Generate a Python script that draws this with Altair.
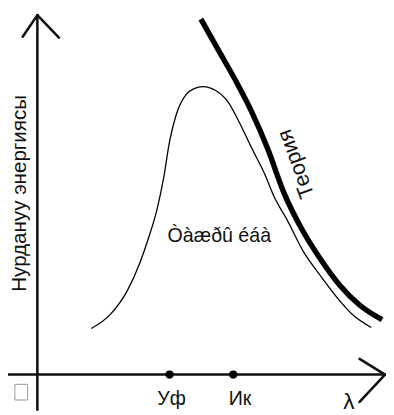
import altair as alt
import pandas as pd

# drawing coordinate system: x to the right, y downward (0..415)
# axes with arrow heads: segments (x, y, x2, y2)
axis_x1 = [38, 5, 23, 60, 367, 367]
axis_y1 = [11, 378, 33, 34, 362, 406]
axis_x2 = [38, 393, 38, 38, 393, 393]
axis_y2 = [414, 378, 11, 11, 378, 378]

# experimental curve (thin)
exp_x = [93, 113, 130, 143, 152, 160, 167, 173, 180, 190, 198, 207, 220, 233, 243, 257, 270, 280, 293, 310, 327, 347, 360, 379]
exp_y = [331, 316, 292, 263, 237, 210, 177, 140, 112, 92, 86, 84, 88, 100, 118, 147, 173, 197, 220, 253, 277, 303, 317, 330]

# theoretical curve (thick)
th_x = [205, 223, 240, 257, 273, 290, 310, 327, 347, 367, 390]
th_y = [15, 47, 77, 110, 147, 193, 233, 260, 287, 307, 322]

# marked points on wavelength axis
pt_x = [173, 238]
pt_y = [378, 378]

# labels
lab_text = ["Нурдануу энергиясы", "Òàæðû éáà", "Теория", "Уф", "Ик", "λ"]
lab_x = [20, 171, 302, 175, 245, 356]
lab_y = [193, 237, 163, 403, 403, 406]
lab_angle = [270, 0, 250, 0, 0, 0]
lab_size = [21, 20, 22, 20, 20, 23]
lab_align = ["center", "left", "center", "center", "center", "center"]

box_x = [15]
box_x2 = [28]
box_y = [388]
box_y2 = [404]

W, H = 386, 407
xs = alt.Scale(domain=[8, 394], nice=False, zero=False)
ys = alt.Scale(domain=[8, 415], nice=False, zero=False, reverse=True)

axes_df = pd.DataFrame({"x": axis_x1, "y": axis_y1, "x2": axis_x2, "y2": axis_y2})
exp_df = pd.DataFrame({"x": exp_x, "y": exp_y})
th_df = pd.DataFrame({"x": th_x, "y": th_y})
pt_df = pd.DataFrame({"x": pt_x, "y": pt_y})
lab_df = pd.DataFrame({"t": lab_text, "x": lab_x, "y": lab_y, "a": lab_angle,
                       "s": lab_size, "al": lab_align})
box_df = pd.DataFrame({"x": box_x, "x2": box_x2, "y": box_y, "y2": box_y2})

axes = alt.Chart(axes_df).mark_rule(color="#111", strokeWidth=2.6, strokeCap="round").encode(
    x=alt.X("x:Q", scale=xs, axis=None), y=alt.Y("y:Q", scale=ys, axis=None),
    x2="x2:Q", y2="y2:Q")

exp = alt.Chart(exp_df).mark_line(color="#000", strokeWidth=1.3, interpolate="monotone").encode(
    x=alt.X("x:Q", scale=xs, axis=None), y=alt.Y("y:Q", scale=ys, axis=None), order="x:Q")

th = alt.Chart(th_df).mark_line(color="#000", strokeWidth=5.5, interpolate="monotone").encode(
    x=alt.X("x:Q", scale=xs, axis=None), y=alt.Y("y:Q", scale=ys, axis=None), order="x:Q")

pts = alt.Chart(pt_df).mark_circle(color="#000", opacity=1, size=70).encode(
    x=alt.X("x:Q", scale=xs, axis=None), y=alt.Y("y:Q", scale=ys, axis=None))

box = alt.Chart(box_df).mark_rect(fill="white", stroke="#999", strokeWidth=1).encode(
    x=alt.X("x:Q", scale=xs, axis=None), y=alt.Y("y:Q", scale=ys, axis=None),
    x2="x2:Q", y2="y2:Q")

def lab_layer(align):
    return alt.Chart(lab_df).transform_filter(alt.datum.al == align).mark_text(
        font="Liberation Sans", color="#111", baseline="middle", align=align).encode(
        x=alt.X("x:Q", scale=xs, axis=None), y=alt.Y("y:Q", scale=ys, axis=None),
        text="t:N", angle=alt.Angle("a:Q", scale=None), size=alt.Size("s:Q", scale=None, legend=None))

chart = alt.layer(exp, th, axes, pts, box, lab_layer("center"), lab_layer("left")).properties(
    width=W, height=H, padding=0, autosize=alt.AutoSizeParams(type="none")
).configure_view(stroke=None)

chart.save("out.html", embed_options={"renderer": "svg", "actions": False})
